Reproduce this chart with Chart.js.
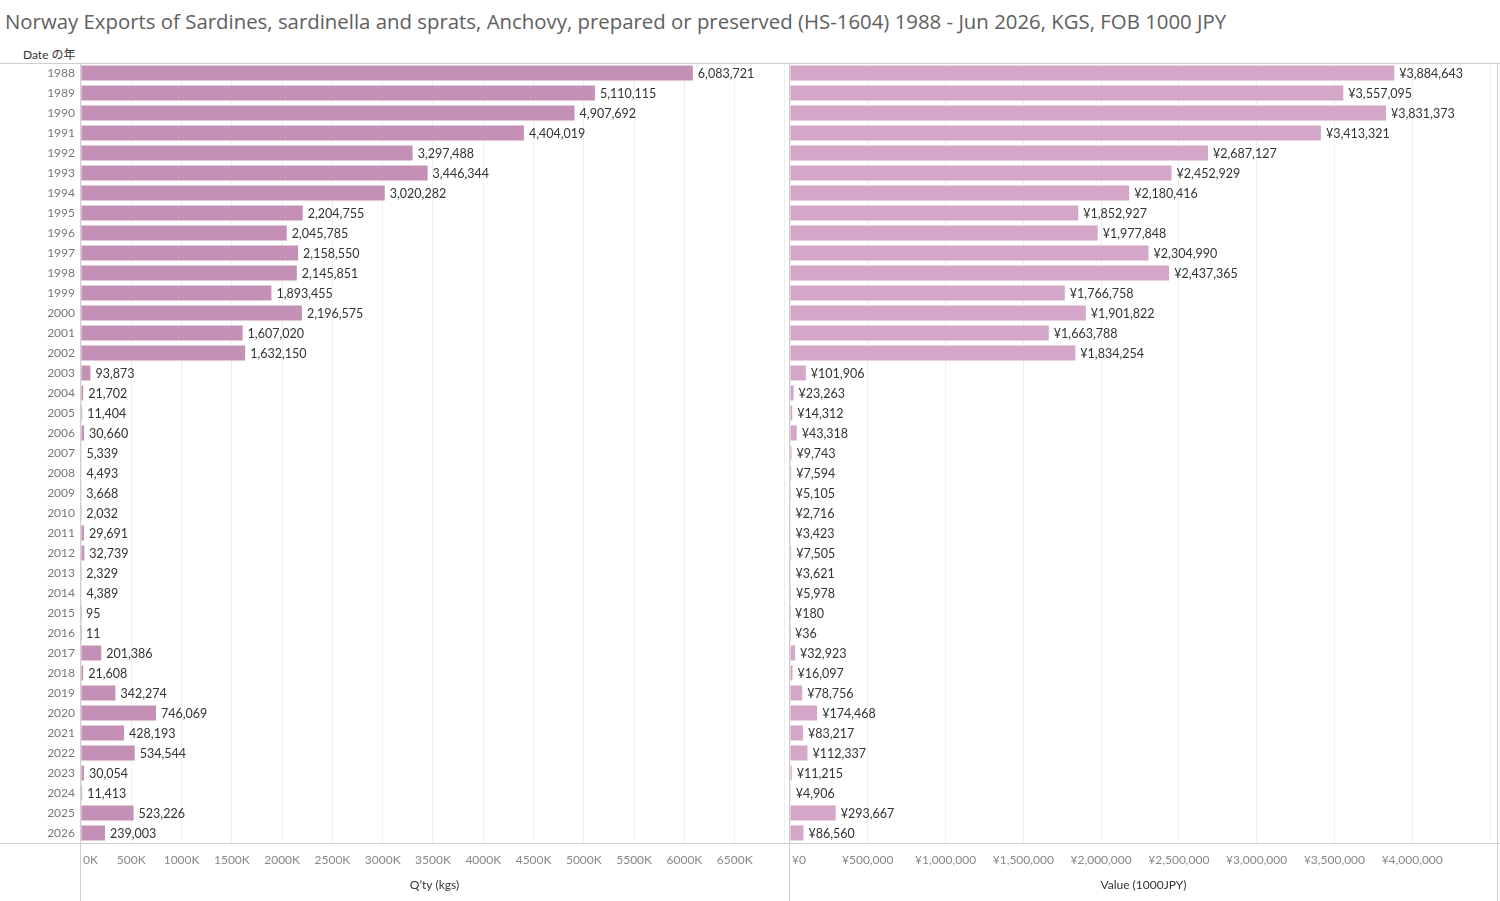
<!DOCTYPE html>
<html>
<head>
<meta charset="utf-8">
<script src="https://cdn.jsdelivr.net/npm/chart.js@4/dist/chart.umd.min.js"></script>
<style>
body { margin: 0; background: #fff; width: 1500px; height: 901px; overflow: hidden; position: relative; font-family: Lato, "Noto Sans CJK JP", sans-serif; }
#title { position: absolute; left: 5px; top: 7px; font-family: "Open Sans", sans-serif; font-size: 19px; color: #606060; white-space: nowrap; }
#rowhead { position: absolute; left: 23px; top: 45px; font-size: 12px; color: #333; }
#left { position: absolute; left: 0; top: 0; }
#right { position: absolute; left: 789px; top: 0; }
</style>
</head>
<body>
<div id="title">Norway Exports of Sardines, sardinella and sprats, Anchovy, prepared or preserved (HS-1604) 1988 - Jun 2026, KGS, FOB 1000 JPY</div>
<div id="rowhead">Date の年</div>
<canvas id="left" width="789" height="901"></canvas>
<canvas id="right" width="711" height="901"></canvas>
<script>
const years = ['1988','1989','1990','1991','1992','1993','1994','1995','1996','1997',
    '1998','1999','2000','2001','2002','2003','2004','2005','2006','2007',
    '2008','2009','2010','2011','2012','2013','2014','2015','2016','2017',
    '2018','2019','2020','2021','2022','2023','2024','2025','2026'];

const qtyKgs = [6083721, 5110115, 4907692, 4404019, 3297488, 3446344, 3020282, 2204755, 2045785, 2158550,
    2145851, 1893455, 2196575, 1607020, 1632150, 93873, 21702, 11404, 30660, 5339,
    4493, 3668, 2032, 29691, 32739, 2329, 4389, 95, 11, 201386,
    21608, 342274, 746069, 428193, 534544, 30054, 11413, 523226, 239003];

const valueJpy = [3884643, 3557095, 3831373, 3413321, 2687127, 2452929, 2180416, 1852927, 1977848, 2304990,
    2437365, 1766758, 1901822, 1663788, 1834254, 101906, 23263, 14312, 43318, 9743,
    7594, 5105, 2716, 3423, 7505, 3621, 5978, 180, 36, 32923,
    16097, 78756, 174468, 83217, 112337, 11215, 4906, 293667, 86560];

const qtyTicks = [0, 500000, 1000000, 1500000, 2000000, 2500000, 3000000, 3500000,
    4000000, 4500000, 5000000, 5500000, 6000000, 6500000, 7000000];
const valueTicks = [0, 500000, 1000000, 1500000, 2000000, 2500000, 3000000, 3500000, 4000000, 4500000];

const fontFamily = 'Lato, "Noto Sans CJK JP", sans-serif';

// fit the title to the width it has in the original
const titleEl = document.getElementById('title');
titleEl.style.fontSize = (19 * 1222 / titleEl.offsetWidth) + 'px';

// value labels at the end of each bar
const barLabels = {
    id: 'barLabels',
    afterDatasetsDraw(chart, args, opts) {
        const ctx = chart.ctx;
        const meta = chart.getDatasetMeta(0);
        const data = chart.data.datasets[0].data;
        ctx.save();
        ctx.font = '12.5px ' + fontFamily;
        ctx.fillStyle = '#333';
        ctx.textBaseline = 'middle';
        ctx.textAlign = 'left';
        meta.data.forEach((bar, i) => {
            const x = Math.max(bar.x, chart.chartArea.left) + 5;
            ctx.fillText(opts.prefix + data[i].toLocaleString('en-US'), x, bar.y + 1);
        });
        ctx.restore();
    }
};

// x tick labels (centered, first one kept inside the pane), axis title, frame lines
const paneFrame = {
    id: 'paneFrame',
    afterDraw(chart, args, opts) {
        const ctx = chart.ctx;
        const area = chart.chartArea;
        const xs = chart.scales.x;
        ctx.save();
        ctx.font = '12px ' + fontFamily;
        ctx.fillStyle = '#888';
        ctx.textBaseline = 'middle';
        ctx.textAlign = 'left';
        xs.ticks.forEach(t => {
            const txt = opts.fmt(t.value);
            const w = ctx.measureText(txt).width;
            let x = xs.getPixelForValue(t.value) - w / 2;
            if (x < area.left + 2) x = area.left + 2;
            if (x + w > area.right) return;
            ctx.fillText(txt, x, 860);
        });
        ctx.fillStyle = '#333';
        ctx.textAlign = 'center';
        ctx.fillText(opts.title, (area.left + area.right) / 2, 885);

        ctx.strokeStyle = '#cfcfcf';
        ctx.lineWidth = 1;
        ctx.beginPath();
        ctx.moveTo(0, 63.5); ctx.lineTo(chart.width, 63.5);
        ctx.moveTo(0, 843.5); ctx.lineTo(chart.width, 843.5);
        ctx.moveTo(area.left - 0.5, 63); ctx.lineTo(area.left - 0.5, chart.height);
        if (opts.rightBorder) {
            ctx.moveTo(area.right + 0.5, 63); ctx.lineTo(area.right + 0.5, chart.height);
        }
        ctx.stroke();
        ctx.restore();
    }
};

function makeChart(id, values, color, cfg) {
    return new Chart(document.getElementById(id), {
        type: 'bar',
        data: {
            labels: years,
            datasets: [{
                data: values,
                backgroundColor: color,
                barPercentage: 0.75,
                categoryPercentage: 1.0
            }]
        },
        options: {
            indexAxis: 'y',
            responsive: false,
            animation: false,
            devicePixelRatio: 1,
            layout: { padding: cfg.padding },
            scales: {
                x: {
                    min: 0,
                    max: cfg.max,
                    ticks: { display: false },
                    grid: { color: '#efefef', drawTicks: false },
                    border: { display: false },
                    afterBuildTicks: s => { s.ticks = cfg.ticks.map(v => ({ value: v })); },
                    afterFit: s => { s.height = 58; }
                },
                y: {
                    display: cfg.showYears,
                    grid: { display: false, drawTicks: false },
                    border: { display: false },
                    ticks: { color: '#777', font: { family: fontFamily, size: 12 }, padding: 6 },
                    afterFit: s => { if (cfg.showYears) s.width = 81; }
                }
            },
            plugins: {
                legend: { display: false },
                tooltip: { enabled: false },
                barLabels: { prefix: cfg.prefix },
                paneFrame: { fmt: cfg.fmt, title: cfg.title, rightBorder: cfg.rightBorder }
            }
        },
        plugins: [barLabels, paneFrame]
    });
}

makeChart('left', qtyKgs, '#c490b5', {
    padding: { top: 63, left: 0, right: 1, bottom: 0 },
    max: 7030000,
    ticks: qtyTicks,
    showYears: true,
    prefix: '',
    fmt: v => (v / 1000) + 'K',
    title: 'Q\u2019ty (kgs)',
    rightBorder: false
});

makeChart('right', valueJpy, '#d4a6c8', {
    padding: { top: 63, left: 1, right: 3, bottom: 0 },
    max: 4545000,
    ticks: valueTicks,
    showYears: false,
    prefix: '\u00a5',
    fmt: v => '\u00a5' + v.toLocaleString('en-US'),
    title: 'Value (1000JPY)',
    rightBorder: true
});
</script>
</body>
</html>
